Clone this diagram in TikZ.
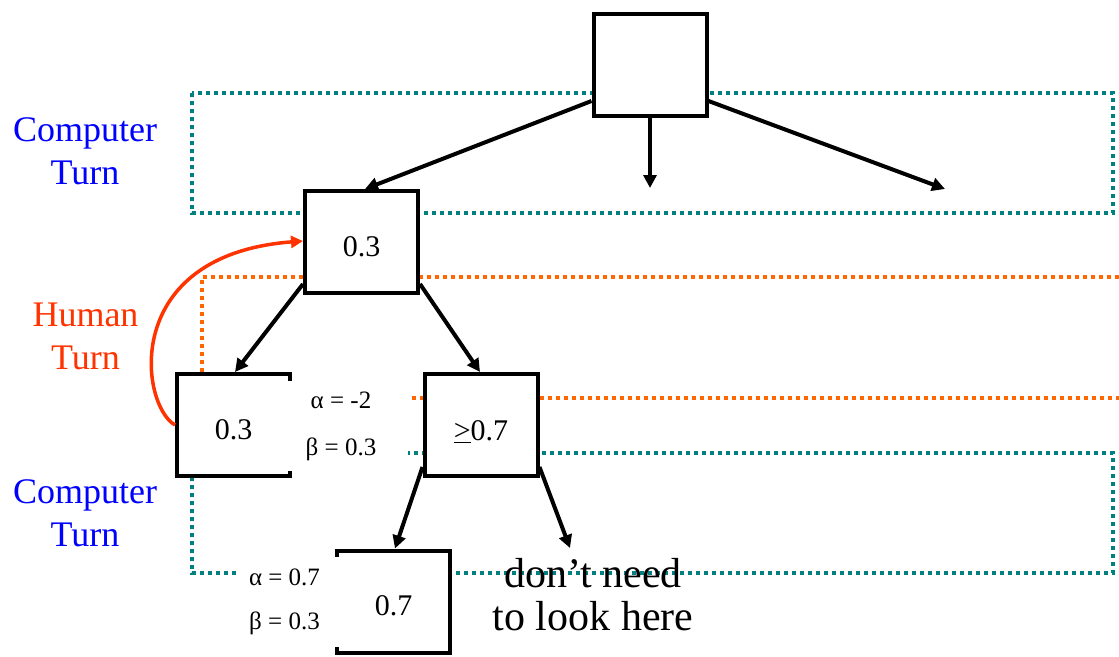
\documentclass[tikz,border=0pt]{standalone}
\usepackage{fontspec}
\setmainfont{Liberation Serif}
\usetikzlibrary{arrows.meta}
\definecolor{tealdk}{RGB}{0,128,128}
\definecolor{orgdot}{RGB}{255,102,0}
\definecolor{orgred}{RGB}{255,51,0}
\definecolor{tblue}{RGB}{0,0,255}
\begin{document}
\begin{tikzpicture}[x=1pt,y=-1pt,
  treebox/.style={draw=black, fill=white, line width=4pt, minimum width=113pt,
    minimum height=102pt, inner sep=0pt, font=\fontsize{30}{36}\selectfont,
    text height=28pt, text depth=0pt},
  turnlbl/.style={align=center, inner sep=0pt, font=\fontsize{36}{43}\selectfont},
  ablbl/.style={fill=white, inner sep=0pt, align=center},
  conn/.style={line width=4pt, -{Triangle[length=13pt,width=13pt]}},
  tealdot/.style={draw=tealdk, line width=4pt, dash pattern=on 4pt off 4pt},
  orgdotline/.style={draw=orgdot, line width=4pt, dash pattern=on 4pt off 4pt}]
\path[use as bounding box] (0,0) rectangle (1119,656);

% dotted turn bands
\draw[tealdot] (192,93) rectangle (1113,213);
\draw[tealdot] (192,453) rectangle (1113,573);
\draw[orgdotline] (1119,277) -- (202,277) -- (202,398) -- (1119,398);

% labels
\node[turnlbl, text=tblue] (ct1) at (85,151) {Computer\\Turn};
\node[turnlbl, text=orgred] (ht) at (85.5,336) {Human\\Turn};
\node[turnlbl, text=tblue] (ct2) at (85,513) {Computer\\Turn};
\node[align=center, inner sep=0pt, font=\fontsize{42}{43}\selectfont] (dn) at (593,595) {don’t need\\to look here};

% tree boxes
\node[treebox] (top) at (650,65) {};
\node[treebox] (b1) at (361.5,242) {0.3};
\node[treebox] (b2) at (233.5,425) {0.3};
\node[treebox, text height=31pt] (b3) at (481,425) {\underline{>}0.7};
\node[treebox] (b4) at (393.5,601.5) {0.7};

% alpha-beta labels
\node[ablbl, minimum width=122pt, minimum height=90pt, font=\fontsize{25}{47}\selectfont] (ab1) at (347,426)
  {\raisebox{-3pt}{α = -2}\hspace*{12pt}\\\raisebox{-3pt}{β = 0.3}\hspace*{12pt}};
\node[ablbl, minimum width=99pt, minimum height=90pt, font=\fontsize{25}{44}\selectfont] (ab2) at (289.5,602)
  {\raisebox{-2pt}{α = 0.7}\hspace*{10pt}\\\raisebox{-2pt}{β = 0.3}\hspace*{10pt}};

% free ends
\coordinate (c1) at (650,188);
\coordinate (c2) at (945,189);
\coordinate (c3) at (570,548);

% connectors
\draw[conn] ([yshift=-36pt]top.west) -- ([xshift=3.5pt]b1.north);
\draw[conn] (top.south) -- (c1);
\draw[conn] ([yshift=-36pt]top.east) -- (c2);
\draw[conn] ([yshift=11pt]b1.south west) -- ([xshift=1.5pt]b2.north);
\draw[conn] ([yshift=11pt]b1.south east) -- ([xshift=-1pt]b3.north);
\draw[conn] ([yshift=11pt]b3.south west) -- ([xshift=1.5pt]b4.north);
\draw[conn] ([yshift=11pt]b3.south east) -- (c3);

% human-turn back arrow
\draw[orgred, line width=3.5pt, -{Triangle[length=12pt,width=12pt]}]
  (b2.west) .. controls (140,405) and (120,255) .. ([yshift=1pt]b1.west);
\end{tikzpicture}
\end{document}
